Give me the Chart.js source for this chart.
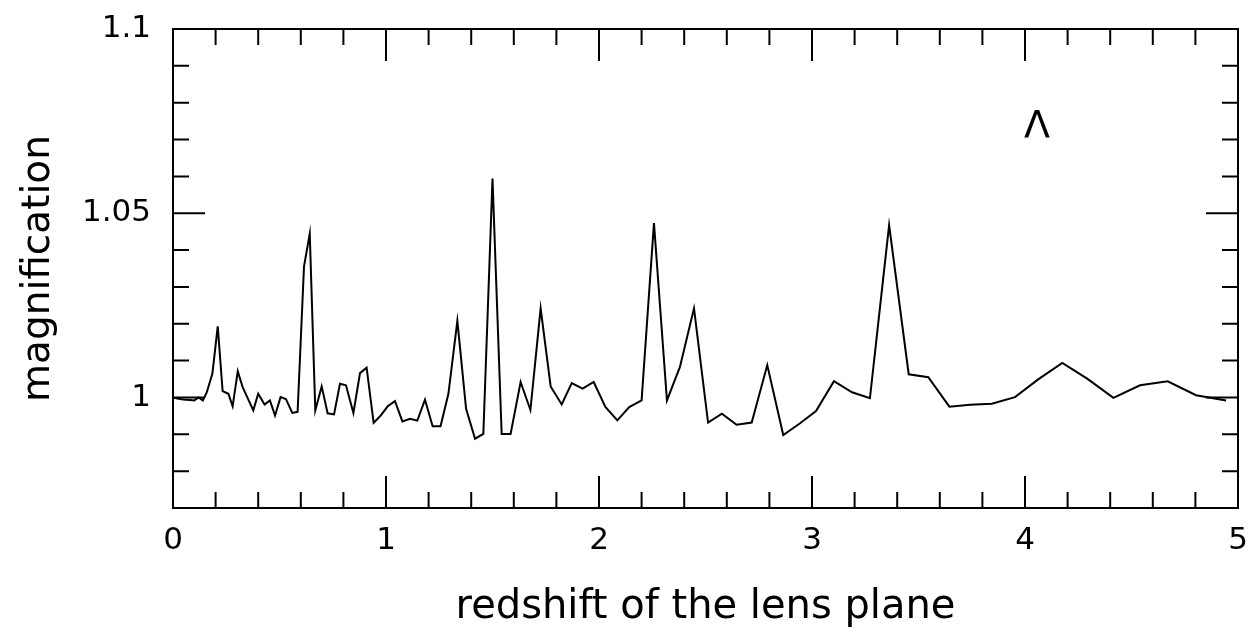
<!DOCTYPE html>
<html>
<head>
<meta charset="utf-8">
<script src="https://cdn.jsdelivr.net/npm/chart.js@4/dist/chart.umd.min.js"></script>
<style>
  html, body { margin: 0; padding: 0; background: #fff; }
  #wrap { width: 1252px; height: 632px; }
</style>
</head>
<body>
<div id="wrap"><canvas id="magChart"></canvas></div>
<script>
// redshift of each lens plane and the magnification it gives
const redshift = [
  0, 0.02, 0.04, 0.06, 0.08, 0.10, 0.12, 0.14, 0.158, 0.185,
  0.21, 0.233, 0.26, 0.28, 0.304, 0.327, 0.35, 0.377, 0.40, 0.43,
  0.455, 0.479, 0.505, 0.53, 0.56, 0.585, 0.615, 0.642, 0.668, 0.698,
  0.726, 0.756, 0.784, 0.812, 0.847, 0.878, 0.909, 0.942, 0.975, 1.008,
  1.042, 1.077, 1.113, 1.147, 1.183, 1.219, 1.256, 1.293, 1.335, 1.376,
  1.418, 1.457, 1.50, 1.543, 1.585, 1.632, 1.678, 1.726, 1.773, 1.825,
  1.872, 1.923, 1.975, 2.03, 2.086, 2.142, 2.20, 2.258, 2.319, 2.38,
  2.446, 2.512, 2.577, 2.646, 2.717, 2.79, 2.865, 2.944, 3.019, 3.103,
  3.188, 3.272, 3.362, 3.454, 3.546, 3.645, 3.742, 3.844, 3.953, 4.062,
  4.175, 4.292, 4.415, 4.54, 4.67, 4.803, 4.944
];
const magnification = [
  1.0000, 0.9997, 0.9995, 0.9994, 0.9993, 0.9992, 1.0000, 0.9992, 1.0013, 1.0065,
  1.0193, 1.0017, 1.0010, 0.9976, 1.0071, 1.0028, 0.9999, 0.9965, 1.0010, 0.9981,
  0.9992, 0.9951, 1.0001, 0.9996, 0.9958, 0.9961, 1.0355, 1.0444, 0.9965, 1.0030,
  0.9957, 0.9954, 1.0037, 1.0033, 0.9958, 1.0066, 1.0081, 0.9931, 0.9951, 0.9976,
  0.9990, 0.9935, 0.9942, 0.9937, 0.9994, 0.9922, 0.9922, 1.0010, 1.0208, 0.9969,
  0.9888, 0.9901, 1.0594, 0.9901, 0.9901, 1.0042, 0.9966, 1.0242, 1.0030, 0.9981,
  1.0039, 1.0024, 1.0042, 0.9974, 0.9938, 0.9974, 0.9992, 1.0473, 0.9992, 1.0083,
  1.0242, 0.9932, 0.9956, 0.9926, 0.9932, 1.0088, 0.9898, 0.9930, 0.9963, 1.0044,
  1.0014, 0.9998, 1.0468, 1.0063, 1.0055, 0.9975, 0.9980, 0.9983, 1.0001, 1.0049,
  1.0094, 1.0051, 0.9999, 1.0033, 1.0044, 1.0006, 0.9992
];
const xTickLabels = ['0', '1', '2', '3', '4', '5'];
const yTickLabels = ['1', '1.05', '1.1'];

const FONT = "'DejaVu Sans', 'Liberation Sans', sans-serif";

// frame with inward ticks on all four sides, plus the Lambda marker
const frameTicks = {
  id: 'frameTicks',
  afterDraw(chart, args, opts) {
    const { ctx, chartArea: a, scales: { x, y } } = chart;
    ctx.save();
    ctx.strokeStyle = '#000';
    ctx.lineWidth = 2;
    ctx.strokeRect(a.left, a.top, a.right - a.left, a.bottom - a.top);
    ctx.beginPath();
    x.ticks.forEach(t => {
      const px = x.getPixelForValue(t.value);
      const major = Math.abs(t.value - Math.round(t.value)) < 1e-6;
      const len = major ? opts.major : opts.minor;
      ctx.moveTo(px, a.bottom); ctx.lineTo(px, a.bottom - len);
      ctx.moveTo(px, a.top); ctx.lineTo(px, a.top + len);
    });
    y.ticks.forEach(t => {
      const py = y.getPixelForValue(t.value);
      const major = Math.round(t.value * 100) % 5 === 0;
      const len = major ? opts.major : opts.minor;
      ctx.moveTo(a.left, py); ctx.lineTo(a.left + len, py);
      ctx.moveTo(a.right, py); ctx.lineTo(a.right - len, py);
    });
    ctx.stroke();

    ctx.fillStyle = '#000';
    ctx.font = opts.markFont;
    ctx.textAlign = 'center';
    ctx.textBaseline = 'middle';
    ctx.fillText(opts.mark, x.getPixelForValue(opts.markAt[0]), y.getPixelForValue(opts.markAt[1]));
    ctx.restore();
  }
};

new Chart(document.getElementById('magChart'), {
  type: 'scatter',
  data: {
    datasets: [{
      data: redshift.map((z, i) => ({ x: z, y: magnification[i] })),
      showLine: true,
      borderColor: '#000',
      borderWidth: 2,
      pointRadius: 0,
      tension: 0
    }]
  },
  options: {
    responsive: true,
    maintainAspectRatio: false,
    animation: false,
    layout: { padding: { top: 29, right: 14, left: 0, bottom: 0 } },
    plugins: {
      legend: { display: false },
      tooltip: { enabled: false },
      frameTicks: { major: 32, minor: 16, mark: 'Λ', markAt: [4.056, 1.0733], markFont: '38px ' + FONT }
    },
    scales: {
      x: {
        type: 'linear',
        min: 0, max: 5,
        grid: { display: false, drawTicks: false },
        border: { display: false },
        afterFit: s => { s.height = 124; s.paddingLeft = 0; s.paddingRight = 0; },
        ticks: {
          stepSize: 0.2,
          autoSkip: false,
          maxRotation: 0,
          padding: 14,
          color: '#000',
          font: { family: FONT, size: 31 },
          callback: v => {
            const r = Math.round(v * 10) / 10;
            return Number.isInteger(r) ? xTickLabels[r] : '';
          }
        },
        title: {
          display: true,
          text: 'redshift of the lens plane',
          color: '#000',
          font: { family: FONT, size: 40 },
          padding: { top: 0, bottom: 0 }
        }
      },
      y: {
        type: 'linear',
        min: 0.97, max: 1.1,
        grid: { display: false, drawTicks: false },
        border: { display: false },
        afterFit: s => { s.width = 173; s.paddingTop = 0; s.paddingBottom = 0; },
        ticks: {
          stepSize: 0.01,
          autoSkip: false,
          padding: 22,
          color: '#000',
          font: { family: FONT, size: 31 },
          callback: v => yTickLabels.find(l => Math.abs(parseFloat(l) - v) < 1e-6) || ''
        },
        title: {
          display: true,
          text: 'magnification',
          color: '#000',
          font: { family: FONT, size: 39 },
          padding: { top: 15, bottom: 0 }
        }
      }
    }
  },
  plugins: [frameTicks]
});
</script>
</body>
</html>
